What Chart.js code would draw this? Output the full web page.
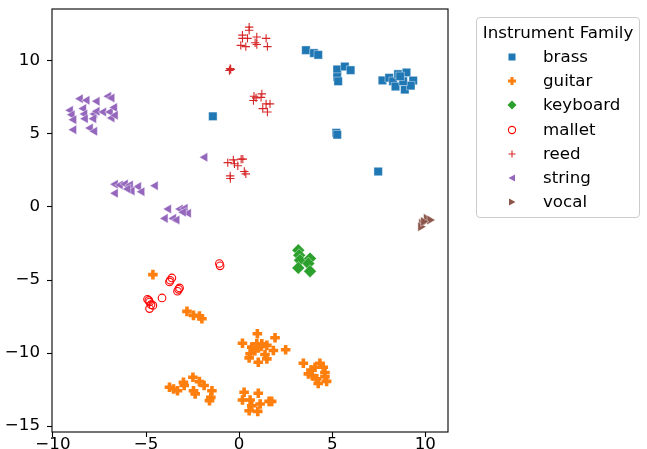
<!DOCTYPE html>
<html>
<head>
<meta charset="utf-8">
<script src="https://cdn.jsdelivr.net/npm/chart.js@4.4.1/dist/chart.umd.min.js"></script>
<style>
  body { margin: 0; background: #fff; font-family: "DejaVu Sans", sans-serif; }
  #wrap { position: relative; width: 647px; height: 449px; }
  #chart { position: absolute; left: 0; top: 0; }
  #legend { position: absolute; left: 476px; top: 17px; width: 164px; height: 201px;
            border: 1px solid #cccccc; border-radius: 4px; box-sizing: border-box; background: #fff; }
  #legend .title { position: absolute; left: 0; width: 100%; top: 4px; text-align: center;
                   font-size: 16.67px; line-height: 22px; color: #000; }
  #legend .row { position: absolute; left: 0; height: 22px; line-height: 22px; font-size: 16.67px; color: #000; }
  #legend .row svg { position: absolute; left: 28px; top: 4px; }
  #legend .row span { position: absolute; left: 66px; white-space: nowrap; }
</style>
</head>
<body>
<div id="wrap">
  <canvas id="chart" width="647" height="449"></canvas>
  <div id="legend"><div class="title">Instrument Family</div></div>
</div>
<script>
// DATA
const families = ['brass', 'guitar', 'keyboard', 'mallet', 'reed', 'string', 'vocal'];
const xTicks = [-10, -5, 0, 5, 10];
const yTicks = [-15, -10, -5, 0, 5, 10];

const brass = [
  [3.59, 10.74], [4.02, 10.54], [4.25, 10.42],
  [5.27, 9.42], [5.68, 9.62], [5.99, 9.37], [5.27, 8.90], [5.32, 8.61],
  [7.70, 8.67], [8.06, 8.85], [8.27, 8.61], [8.54, 9.10], [8.99, 9.21], [9.35, 8.66],
  [8.40, 8.25], [8.90, 8.04], [9.22, 8.31], [8.81, 8.61], [8.65, 8.95],
  [5.22, 5.08], [5.27, 4.95], [7.47, 2.43], [-1.41, 6.21]
];
const guitar = [
  [-4.63, -4.63],
  [-2.80, -7.15], [-2.45, -7.42], [-2.13, -7.47], [-2.00, -7.65],
  [0.98, -8.68], [1.93, -8.96], [0.18, -9.33], [0.95, -9.37], [1.22, -9.37], [1.49, -9.48],
  [0.68, -9.60], [1.03, -9.64], [1.84, -9.83], [2.50, -9.78], [0.59, -10.05], [1.39, -10.10],
  [0.54, -10.33], [1.49, -10.40], [1.03, -10.63], [1.18, -9.55], [0.85, -9.85],
  [3.45, -10.70], [4.34, -10.70], [4.08, -10.98], [4.52, -10.98], [3.86, -11.16], [4.61, -11.33],
  [3.93, -11.55], [4.61, -11.62], [4.17, -11.77], [4.70, -11.94], [4.25, -12.08], [3.72, -11.43],
  [-3.74, -12.35], [-3.52, -12.46], [-3.31, -12.58], [-2.99, -12.01], [-2.95, -12.23], [-2.48, -11.66],
  [-2.13, -11.96], [-1.88, -12.23], [-2.45, -12.58], [-2.36, -12.80], [-1.46, -12.58], [-1.52, -13.04],
  [-1.59, -13.26],
  [0.27, -12.69], [1.03, -12.76], [0.18, -13.22], [0.59, -13.22], [1.61, -13.31], [1.75, -13.31],
  [0.68, -13.61], [1.13, -13.49], [0.54, -13.95], [1.00, -14.00]
];
const keyboard = [
  [3.18, -2.96], [3.23, -3.30], [3.27, -3.64], [3.81, -3.53], [3.72, -3.87], [3.18, -4.17], [3.81, -4.40]
];
const mallet = [
  [-1.06, -3.87], [-1.02, -4.03], [-3.61, -4.86], [-3.70, -5.02], [-3.74, -5.13],
  [-3.20, -5.54], [-3.31, -5.77], [-3.25, -5.64], [-4.14, -6.23], [-4.92, -6.32],
  [-4.81, -6.51], [-4.63, -6.74], [-4.81, -6.96], [-4.73, -6.69], [-4.85, -6.40]
];
const reed = [
  [0.54, 12.32], [0.54, 12.10], [0.18, 11.77], [0.18, 11.55], [0.45, 11.55], [0.95, 11.64],
  [0.86, 11.25], [0.95, 11.13], [1.45, 11.55], [1.52, 10.98], [0.09, 11.07], [0.36, 10.98],
  [-0.48, 9.48], [-0.52, 9.35], [-0.45, 9.42],
  [0.80, 7.58], [0.77, 7.29], [1.22, 7.75], [1.18, 7.51], [1.45, 7.06], [1.66, 7.06],
  [1.27, 6.74], [1.52, 6.51], [0.91, 7.47],
  [-0.61, 3.04], [-0.31, 3.23], [-0.25, 2.96], [-0.07, 2.82], [0.11, 3.28], [0.20, 3.28],
  [0.28, 2.43], [0.36, 2.27], [-0.48, 2.13], [-0.47, 1.95]
];
const string = [
  [-8.53, 7.42], [-8.17, 7.31], [-7.63, 7.24], [-7.01, 7.58], [-6.83, 7.47],
  [-9.06, 6.62], [-8.97, 6.32], [-8.88, 5.98], [-8.35, 6.74], [-8.29, 6.37], [-8.26, 6.05],
  [-7.76, 6.37], [-7.63, 6.55], [-7.81, 6.05], [-7.28, 6.51], [-6.92, 6.51], [-6.69, 6.82],
  [-6.83, 6.10], [-6.65, 6.28], [-8.88, 5.29], [-7.99, 5.41], [-7.76, 5.18],
  [-6.65, 1.56], [-6.38, 1.51], [-6.11, 1.58], [-5.84, 1.51], [-5.40, 1.40], [-4.50, 1.46],
  [-6.65, 0.94], [-5.75, 1.10], [-5.22, 1.05], [-5.97, 1.24],
  [-3.79, -0.14], [-3.16, -0.14], [-2.90, -0.09], [-2.72, -0.43], [-3.97, -0.78],
  [-3.52, -0.78], [-3.34, -0.89], [-2.99, -0.36],
  [-1.84, 3.40]
];
const vocal = [
  [10.06, -0.78], [10.24, -0.89], [9.80, -1.12], [9.75, -1.35], [9.90, -1.00]
];

const values = { brass, guitar, keyboard, mallet, reed, string, vocal };

// STYLES
const styles = {
  brass:    { pointStyle: 'rect', pointRadius: 6, pointBackgroundColor: '#1f77b4', pointBorderColor: 'rgba(255,255,255,0.7)', pointBorderWidth: 0.6 },
  guitar:   { pointStyle: 'cross', pointRadius: 4.8, pointBackgroundColor: '#ff7f0e', pointBorderColor: '#ff7f0e', pointBorderWidth: 3.6 },
  keyboard: { pointStyle: 'rectRot', pointRadius: 6.4, pointBackgroundColor: '#2ca02c', pointBorderColor: 'rgba(255,255,255,0.7)', pointBorderWidth: 0.6 },
  mallet:   { pointStyle: 'circle', pointRadius: 3.8, pointBackgroundColor: 'rgba(0,0,0,0)', pointBorderColor: '#ff0000', pointBorderWidth: 1.1 },
  reed:     { pointStyle: 'cross', pointRadius: 4.2, pointBackgroundColor: '#d62728', pointBorderColor: '#d62728', pointBorderWidth: 1.1 },
  string:   { pointStyle: 'triangle', pointRotation: -90, pointRadius: 5.5, pointBackgroundColor: '#9467bd', pointBorderColor: 'rgba(255,255,255,0.7)', pointBorderWidth: 0.6 },
  vocal:    { pointStyle: 'triangle', pointRotation: 90, pointRadius: 5.5, pointBackgroundColor: '#8c564b', pointBorderColor: 'rgba(255,255,255,0.7)', pointBorderWidth: 0.6 }
};

// LEGEND MARKERS (svg, 14x14)
const legendIcons = {
  brass:    '<rect x="3.5" y="3.5" width="7" height="7" fill="#1f77b4"/>',
  guitar:   '<path d="M7 3v8M3 7h8" stroke="#ff7f0e" stroke-width="3"/>',
  keyboard: '<path d="M7 2.5L11.5 7L7 11.5L2.5 7Z" fill="#2ca02c"/>',
  mallet:   '<circle cx="7" cy="7" r="3.6" fill="none" stroke="#ff0000" stroke-width="1.1"/>',
  reed:     '<path d="M7 3.5v7M3.5 7h7" stroke="#d62728" stroke-width="1.1"/>',
  string:   '<path d="M3.5 7L10 3.5V10.5Z" fill="#9467bd"/>',
  vocal:    '<path d="M10.5 7L4 3.5V10.5Z" fill="#8c564b"/>'
};

const legend = document.getElementById('legend');
families.forEach(function (name, i) {
  const row = document.createElement('div');
  row.className = 'row';
  row.style.top = (28 + i * 24.2) + 'px';
  row.innerHTML = '<svg width="14" height="14">' + legendIcons[name] + '</svg><span>' + name + '</span>';
  legend.appendChild(row);
});

// FRAME around the plot area
const framePlugin = {
  id: 'frame',
  afterDraw(chart) {
    const a = chart.chartArea, ctx = chart.ctx;
    ctx.save();
    ctx.strokeStyle = '#000';
    ctx.lineWidth = 1.1;
    ctx.strokeRect(a.left, a.top, a.right - a.left, a.bottom - a.top);
    ctx.restore();
  }
};

function minusLabel(v) {
  return v < 0 ? '\u2212' + Math.abs(v) : String(v);
}

const tickFont = { family: 'DejaVu Sans', size: 16.67 };

new Chart(document.getElementById('chart'), {
  type: 'scatter',
  data: {
    datasets: families.map(function (name) {
      return Object.assign({
        label: name,
        data: values[name].map(p => ({ x: p[0], y: p[1] })),
        showLine: false
      }, styles[name]);
    })
  },
  options: {
    responsive: false,
    animation: false,
    events: [],
    layout: { padding: { left: 0, top: 9, right: 199, bottom: 0 } },
    plugins: { legend: { display: false }, tooltip: { enabled: false } },
    scales: {
      x: {
        type: 'linear', min: -10.05, max: 11.22,
        afterBuildTicks: s => { s.ticks = xTicks.map(v => ({ value: v })); },
        afterFit: s => { s.height = 17; s.paddingLeft = 0; s.paddingRight = 0; },
        grid: { drawOnChartArea: false, drawTicks: true, tickLength: 5, color: '#000', tickWidth: 1.1 },
        border: { display: false },
        ticks: { color: '#000', font: tickFont, padding: -2, maxRotation: 0, callback: minusLabel }
      },
      y: {
        type: 'linear', min: -15.41, max: 13.56,
        afterBuildTicks: s => { s.ticks = yTicks.map(v => ({ value: v })); },
        afterFit: s => { s.width = 52; s.paddingTop = 0; s.paddingBottom = 0; },
        grid: { drawOnChartArea: false, drawTicks: true, tickLength: 5, color: '#000', tickWidth: 1.1 },
        border: { display: false },
        ticks: { color: '#000', font: tickFont, padding: 7, callback: minusLabel }
      }
    }
  },
  plugins: [framePlugin]
});
</script>
</body>
</html>
